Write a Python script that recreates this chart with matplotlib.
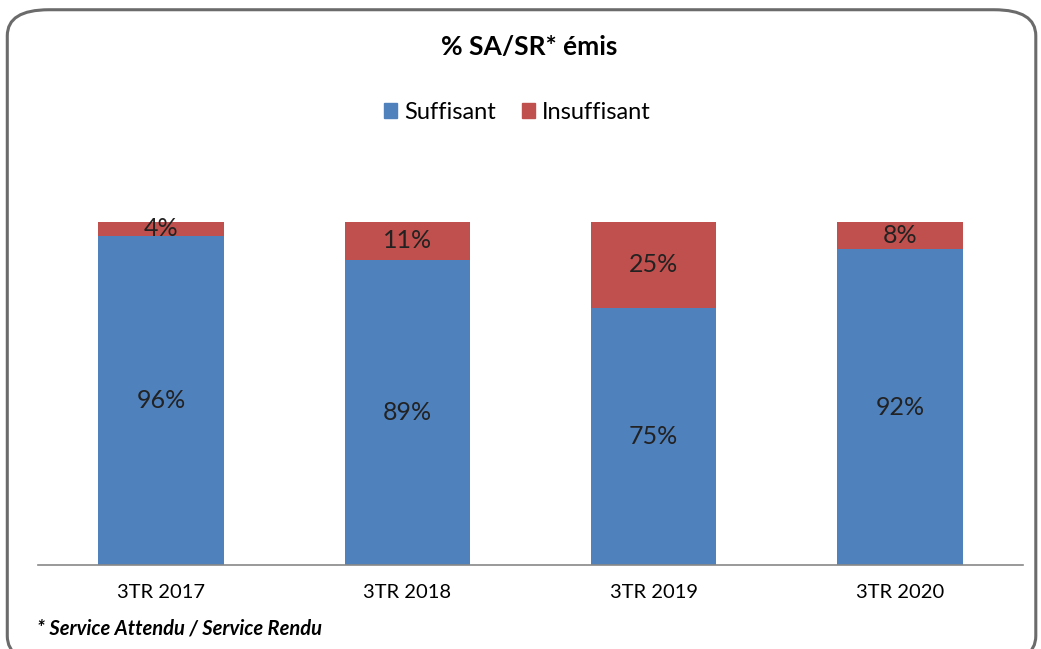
import matplotlib.pyplot as plt
from matplotlib.patches import FancyBboxPatch, Patch

# -------------------- Data -------------------- #
periods = ["3TR 2017", "3TR 2018", "3TR 2019", "3TR 2020"]
suffisant = [96, 89, 75, 92]
insuffisant = [4, 11, 25, 8]

blue = "#4F81BD"
red = "#C0504D"
plt.rcParams['font.family'] = ['Lato', 'DejaVu Sans']

# -------------------- Figure -------------------- #
fig = plt.figure(figsize=(10.41, 6.49), dpi=100)
ax = fig.add_axes([0.0365, 0.1294, 0.9462, 0.5285])

x = range(len(periods))
ax.bar(x, suffisant, width=0.51, color=blue)
ax.bar(x, insuffisant, width=0.51, bottom=suffisant, color=red)

for i in x:
    ax.text(i, suffisant[i] / 2, f"{suffisant[i]}%", ha="center", va="center",
            fontsize=18, color="#222222")
    ax.text(i, suffisant[i] + insuffisant[i] / 2, f"{insuffisant[i]}%",
            ha="center", va="center", fontsize=18, color="#222222")

ax.set_xlim(-0.5, 3.5)
ax.set_ylim(0, 100)
ax.set_xticks(list(x))
ax.set_xticklabels(periods, fontsize=14.5)
ax.tick_params(axis="x", length=0, pad=14)
ax.set_yticks([])
for s in ["top", "left", "right"]:
    ax.spines[s].set_visible(False)
ax.spines["bottom"].set_color("#888888")
ax.spines["bottom"].set_linewidth(1.2)

# -------------------- Title / legend / note -------------------- #
fig.text(0.508, 0.928, "% SA/SR* émis", ha="center", va="center",
         fontsize=19, fontweight="bold")
handles = [Patch(color=blue, label="Suffisant"), Patch(color=red, label="Insuffisant")]
fig.legend(handles=handles, loc="center", bbox_to_anchor=(0.497, 0.827), ncol=2,
           frameon=False, fontsize=17, handlelength=0.55, handleheight=0.55,
           handletextpad=0.3, columnspacing=1.1)
fig.text(0.036, 0.032, "* Service Attendu / Service Rendu", ha="left", va="center",
         fontsize=14.5, fontweight="bold", fontstyle="italic")

# rounded frame around the chart
frame = FancyBboxPatch((0.007, -0.02), 0.988, 1.005, transform=fig.transFigure,
                       boxstyle="round,pad=0,rounding_size=0.04",
                       facecolor="none", edgecolor="#6b6b6b", linewidth=2.2)
fig.patches.append(frame)

fig.savefig("out.png", dpi=100)
